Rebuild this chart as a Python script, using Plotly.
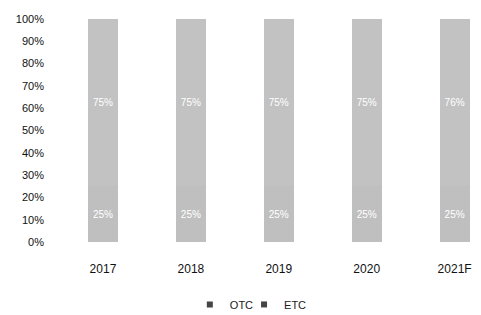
import plotly.graph_objects as go

years = ["2017", "2018", "2019", "2020", "2021F"]
otc = [25, 25, 25, 25, 25]
etc = [75, 75, 75, 75, 75]
otc_labels = ["25%", "25%", "25%", "25%", "25%"]
etc_labels = ["75%", "75%", "75%", "75%", "76%"]
yticks = list(range(0, 101, 10))

fig = go.Figure()
fig.add_trace(go.Bar(x=years, y=otc, name="OTC", text=otc_labels, textposition="inside",
                     insidetextanchor="middle", marker=dict(color="#bfbfbf", line=dict(width=0)),
                     textfont=dict(color="white", size=10, family="Liberation Sans"),
                     width=0.34, showlegend=False))
fig.add_trace(go.Bar(x=years, y=etc, name="ETC", text=etc_labels, textposition="inside",
                     insidetextanchor="middle", marker=dict(color="#c2c2c2", line=dict(width=0)),
                     textfont=dict(color="white", size=10, family="Liberation Sans"),
                     width=0.34, showlegend=False))
fig.add_trace(go.Scatter(x=[None], y=[None], mode="markers", name="OTC", legend="legend",
                         marker=dict(symbol="square", size=6, color="#444444")))
fig.add_trace(go.Scatter(x=[None], y=[None], mode="markers", name="ETC", legend="legend2",
                         marker=dict(symbol="square", size=6, color="#444444")))

leg_common = dict(orientation="h", y=-0.28, yanchor="middle", xanchor="left",
                  font=dict(size=11, color="#222222"), itemwidth=30, bgcolor="rgba(0,0,0,0)")

fig.update_layout(
    barmode="stack",
    width=473, height=307,
    margin=dict(l=51, r=0, t=11, b=73, autoexpand=False),
    paper_bgcolor="white", plot_bgcolor="white",
    font=dict(family="Liberation Sans", size=11, color="#111111"),
    uniformtext=dict(minsize=8, mode="show"),
    xaxis=dict(range=[-0.5, 4.3], showgrid=False, showline=False, zeroline=False,
               ticks="", ticklabelstandoff=18, tickfont=dict(size=12), automargin=False),
    yaxis=dict(range=[0, 100], tickvals=yticks, ticktext=[f"{v}%" for v in yticks],
               showgrid=False, showline=False, zeroline=False, ticks="",
               ticklabelstandoff=14, tickfont=dict(size=11), automargin=False),
    legend=dict(x=0.31, **leg_common),
    legend2=dict(x=0.4385, **leg_common),
)

fig.write_html("out.html")
